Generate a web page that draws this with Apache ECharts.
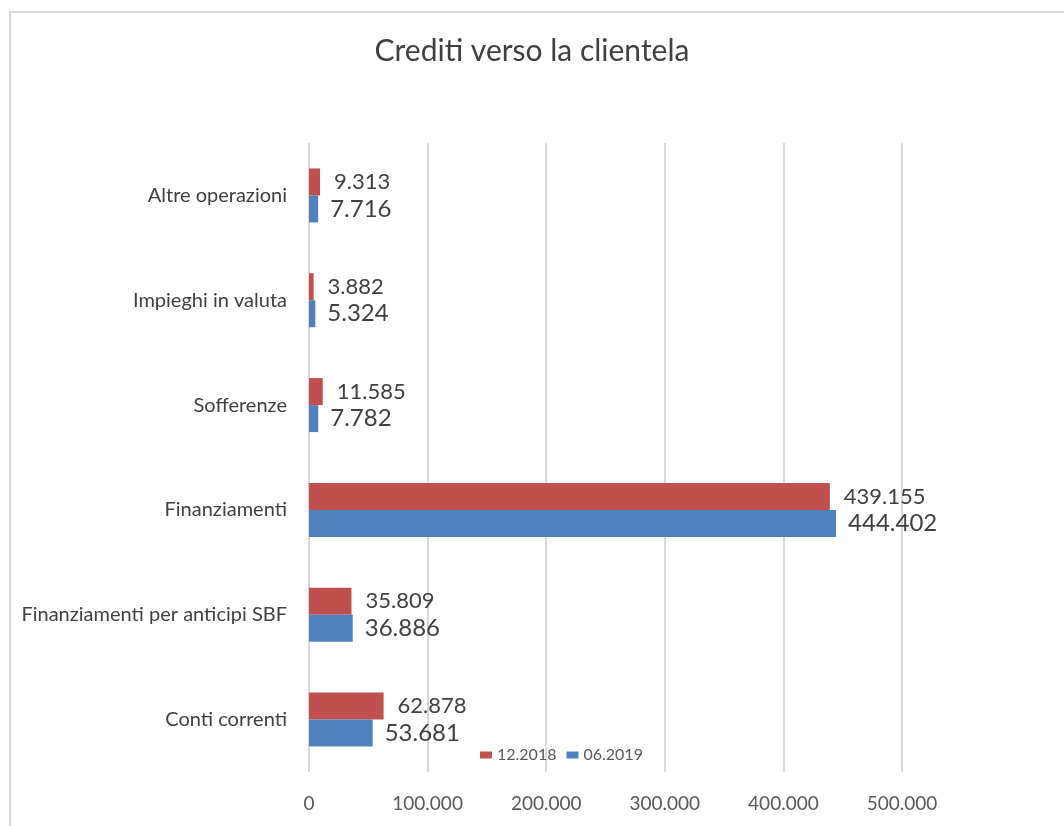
<!DOCTYPE html>
<html>
<head>
<meta charset="utf-8">
<script src="https://cdn.jsdelivr.net/npm/echarts@6/dist/echarts.min.js"></script>
<style>
  html, body { margin: 0; padding: 0; background: #fff; }
  #chart { width: 1064px; height: 826px; }
</style>
</head>
<body>
<div id="chart"></div>
<script>
const categories = [
  "Conti correnti",
  "Finanziamenti per anticipi SBF",
  "Finanziamenti",
  "Sofferenze",
  "Impieghi in valuta",
  "Altre operazioni"
];
const dec2018 = [62878, 35809, 439155, 11585, 3882, 9313];
const jun2019 = [53681, 36886, 444402, 7782, 5324, 7716];
const xTicks = [0, 100000, 200000, 300000, 400000, 500000];

const fmt = (v) => new Intl.NumberFormat("de-DE").format(v);
const FONT = "Lato";

const chart = echarts.init(document.getElementById("chart"));

chart.setOption({
  backgroundColor: "#ffffff",
  animation: false,
  textStyle: { fontFamily: FONT },
  title: {
    text: "Crediti verso la clientela",
    left: "center",
    top: 31,
    textStyle: { fontFamily: FONT, fontSize: 30, fontWeight: "normal", color: "#404040" }
  },
  graphic: [{
    type: "rect",
    shape: { x: 10, y: 12, width: 1200, height: 1000 },
    style: { fill: "none", stroke: "#d9d9d9", lineWidth: 2 },
    silent: true
  }],
  legend: {
    left: 475,
    top: 742,
    itemWidth: 12,
    itemHeight: 7,
    itemGap: 10,
    icon: "rect",
    textStyle: { fontFamily: FONT, fontSize: 16, color: "#595959" },
    data: ["12.2018", "06.2019"]
  },
  grid: { left: 309, right: 162, top: 143, bottom: 54 },
  xAxis: {
    type: "value",
    min: xTicks[0],
    max: xTicks[xTicks.length - 1],
    interval: 100000,
    axisLine: { show: false },
    axisTick: { show: false },
    splitLine: { lineStyle: { color: "#d9d9d9", width: 2 } },
    axisLabel: {
      margin: 22,
      fontFamily: FONT,
      fontSize: 19,
      color: "#595959",
      formatter: (v) => fmt(v)
    }
  },
  yAxis: {
    type: "category",
    data: categories,
    axisLine: { show: false },
    axisTick: { show: false },
    axisLabel: { margin: 22, fontFamily: FONT, fontSize: 20, color: "#404040" }
  },
  series: [
    {
      name: "12.2018",
      type: "bar",
      data: dec2018,
      barWidth: 27,
      barGap: "0%",
      itemStyle: { color: "#c0504d" },
      label: {
        show: true,
        position: "right",
        distance: 14,
        fontFamily: FONT,
        fontSize: 22,
        color: "#404040",
        formatter: (p) => fmt(p.value)
      }
    },
    {
      name: "06.2019",
      type: "bar",
      data: jun2019,
      barWidth: 27,
      barGap: "0%",
      itemStyle: { color: "#4f81bd" },
      label: {
        show: true,
        position: "right",
        distance: 12,
        fontFamily: FONT,
        fontSize: 24,
        color: "#404040",
        formatter: (p) => fmt(p.value)
      }
    }
  ]
});
</script>
</body>
</html>
